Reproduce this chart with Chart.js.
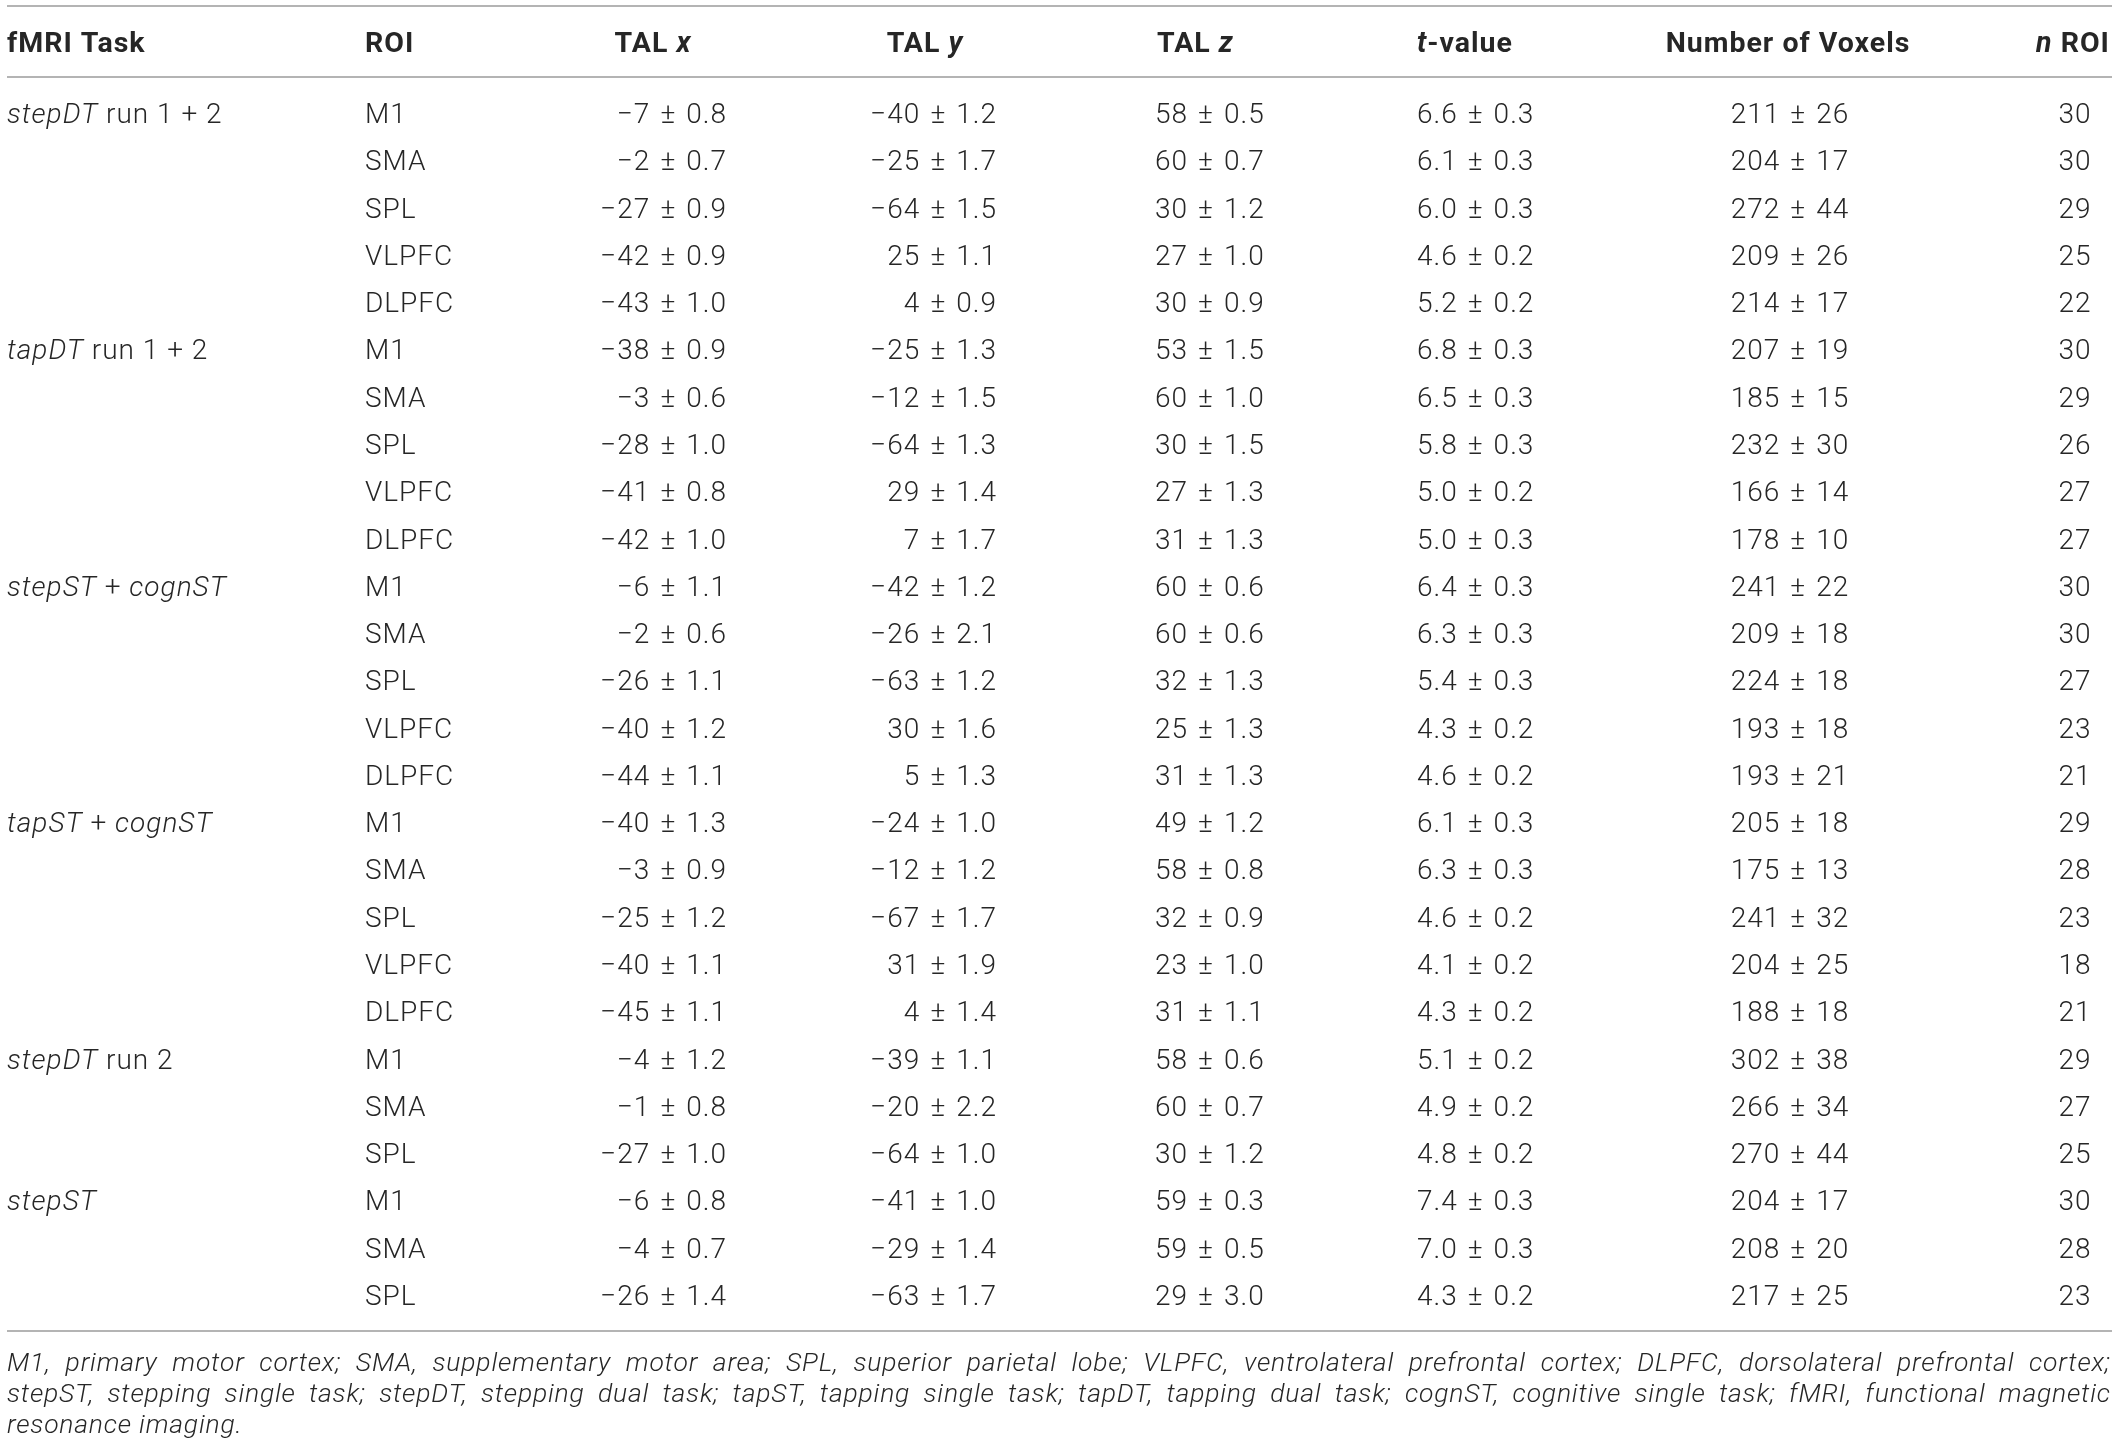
<!DOCTYPE html>
<html><head><meta charset="utf-8">
<script src="https://cdn.jsdelivr.net/npm/chart.js@4.4.1/dist/chart.umd.min.js"></script>
<style>html,body{margin:0;padding:0;background:#fff;overflow:hidden}#wrap{width:2120px;height:1456px}</style>
</head><body><div id="wrap"><canvas id="c" width="2120" height="1456"></canvas></div>
<script>
// ---------- DATA ----------
const headers = ["fMRI Task", "ROI", "TAL x", "TAL y", "TAL z", "t-value", "Number of Voxels", "n ROI"];
const taskNames = ["stepDT run 1 + 2", "tapDT run 1 + 2", "stepST + cognST", "tapST + cognST", "stepDT run 2", "stepST"];
const taskSizes = [5, 5, 5, 5, 3, 3];
const roi = ["M1","SMA","SPL","VLPFC","DLPFC", "M1","SMA","SPL","VLPFC","DLPFC", "M1","SMA","SPL","VLPFC","DLPFC", "M1","SMA","SPL","VLPFC","DLPFC", "M1","SMA","SPL", "M1","SMA","SPL"];
const talXMean = [-7,-2,-27,-42,-43, -38,-3,-28,-41,-42, -6,-2,-26,-40,-44, -40,-3,-25,-40,-45, -4,-1,-27, -6,-4,-26];
const talXSD   = [0.8,0.7,0.9,0.9,1.0, 0.9,0.6,1.0,0.8,1.0, 1.1,0.6,1.1,1.2,1.1, 1.3,0.9,1.2,1.1,1.1, 1.2,0.8,1.0, 0.8,0.7,1.4];
const talYMean = [-40,-25,-64,25,4, -25,-12,-64,29,7, -42,-26,-63,30,5, -24,-12,-67,31,4, -39,-20,-64, -41,-29,-63];
const talYSD   = [1.2,1.7,1.5,1.1,0.9, 1.3,1.5,1.3,1.4,1.7, 1.2,2.1,1.2,1.6,1.3, 1.0,1.2,1.7,1.9,1.4, 1.1,2.2,1.0, 1.0,1.4,1.7];
const talZMean = [58,60,30,27,30, 53,60,30,27,31, 60,60,32,25,31, 49,58,32,23,31, 58,60,30, 59,59,29];
const talZSD   = [0.5,0.7,1.2,1.0,0.9, 1.5,1.0,1.5,1.3,1.3, 0.6,0.6,1.3,1.3,1.3, 1.2,0.8,0.9,1.0,1.1, 0.6,0.7,1.2, 0.3,0.5,3.0];
const tMean    = [6.6,6.1,6.0,4.6,5.2, 6.8,6.5,5.8,5.0,5.0, 6.4,6.3,5.4,4.3,4.6, 6.1,6.3,4.6,4.1,4.3, 5.1,4.9,4.8, 7.4,7.0,4.3];
const tSD      = [0.3,0.3,0.3,0.2,0.2, 0.3,0.3,0.3,0.2,0.3, 0.3,0.3,0.3,0.2,0.2, 0.3,0.3,0.2,0.2,0.2, 0.2,0.2,0.2, 0.3,0.3,0.2];
const voxMean  = [211,204,272,209,214, 207,185,232,166,178, 241,209,224,193,193, 205,175,241,204,188, 302,266,270, 204,208,217];
const voxSD    = [26,17,44,26,17, 19,15,30,14,10, 22,18,18,18,21, 18,13,32,25,18, 38,34,44, 17,20,25];
const nROI     = [30,30,29,25,22, 30,29,26,27,27, 30,30,27,23,21, 29,28,23,18,21, 29,27,25, 30,28,23];
const footnoteLines = [
  "M1, primary motor cortex; SMA, supplementary motor area; SPL, superior parietal lobe; VLPFC, ventrolateral prefrontal cortex; DLPFC, dorsolateral prefrontal cortex;",
  "stepST, stepping single task; stepDT, stepping dual task; tapST, tapping single task; tapDT, tapping dual task; cognST, cognitive single task; fMRI, functional magnetic",
  "resonance imaging."
];

// ---------- LAYOUT / STYLE ----------
const FONT = "Roboto, 'Liberation Sans', Arial, sans-serif";
const TEXT = "#262626";
const RULE = "#b4b4b4";
const cols = [
  {hx: 7,    ha: "left",   dx: 7,    da: "left"},
  {hx: 365,  ha: "left",   dx: 365,  da: "left"},
  {hx: 653,  ha: "center", dx: 726,  da: "right"},
  {hx: 925,  ha: "center", dx: 996,  da: "right"},
  {hx: 1157, ha: "left",   dx: 1155, da: "left"},
  {hx: 1417, ha: "left",   dx: 1417, da: "left"},
  {hx: 1788, ha: "center", dx: 1790, da: "center"},
  {hx: 2073, ha: "center", dx: 2075, da: "center"}
];
const headerRow = -1.5, topRule = -2.48, headRule = -0.97, bottomRule = 25.55;
const ruleX0 = 7, ruleX1 = 2112;
const BODY_SIZE = 28, BODY_LS = 1, HEAD_SIZE = 28.5, HEAD_LS = 1, PM_GAP = 10;
const FOOT_SIZE = 26.5;

// ---------- FORMATTING ----------
function num(v, d) { return (v < 0 ? "\u2212" : "") + Math.abs(v).toFixed(d); }
function pm(m, s, dm, ds) { return num(m, dm) + " \u00b1 " + num(s, ds); }

const cellText = [
  [], roi,
  talXMean.map((m,i)=>pm(m, talXSD[i], 0, 1)),
  talYMean.map((m,i)=>pm(m, talYSD[i], 0, 1)),
  talZMean.map((m,i)=>pm(m, talZSD[i], 0, 1)),
  tMean.map((m,i)=>pm(m, tSD[i], 1, 1)),
  voxMean.map((m,i)=>pm(m, voxSD[i], 0, 0)),
  nROI.map(v=>String(v))
];
const taskRows = []; let r0 = 0;
taskSizes.forEach(n => { taskRows.push(r0); r0 += n; });

const datasets = cols.map((c, ci) => {
  const cells = ci === 0 ? taskNames : cellText[ci];
  const rows = ci === 0 ? taskRows : cells.map((_, r) => r);
  return {label: headers[ci], data: rows.map(r => ({x: c.dx, y: r})), cells, align: c.da, pointRadius: 0};
});

function taskSegments(s) {
  return s.split(" ").map((w, i, arr) => ({t: w + (i < arr.length - 1 ? " " : ""), it: /ST|DT/.test(w)}));
}
function headerSegments(s) {
  const m = s.match(/^(.*?)([xyz])$/);
  if (m) return [{t: m[1], it: false}, {t: m[2], it: true}];
  if (s.startsWith("t-")) return [{t: "t", it: true}, {t: s.slice(1), it: false}];
  if (s.startsWith("n ")) return [{t: "n", it: true}, {t: s.slice(1), it: false}];
  return [{t: s, it: false}];
}
function cellSegments(s) {
  if (s.indexOf(" \u00b1 ") < 0) return [{t: s, it: false}];
  const p = s.split(" \u00b1 ");
  return [{t: p[0], it: false, gap: PM_GAP}, {t: "\u00b1", it: false, gap: PM_GAP}, {t: p[1], it: false}];
}
function setLS(ctx, v) { if ("letterSpacing" in ctx) ctx.letterSpacing = v + "px"; }
function drawRich(ctx, segs, x, y, align, size, weight, ls) {
  setLS(ctx, ls);
  const fonts = segs.map(s => (s.it ? "italic " : "") + weight + " " + size + "px " + FONT);
  let total = 0;
  const ws = segs.map((s, i) => { ctx.font = fonts[i]; const w = ctx.measureText(s.t).width + (s.gap || 0); total += w; return w; });
  if (align === "right") total -= ls;
  let cx = align === "left" ? x : align === "right" ? x - total : x - total / 2;
  ctx.textAlign = "left";
  segs.forEach((s, i) => { ctx.font = fonts[i]; ctx.fillText(s.t, cx, y); cx += ws[i]; });
  setLS(ctx, 0);
}

const tablePlugin = {
  id: "tableText",
  afterDatasetsDraw(chart) {
    const ctx = chart.ctx, xs = chart.scales.x, ys = chart.scales.y;
    ctx.save();
    ctx.fillStyle = TEXT;
    ctx.textBaseline = "alphabetic";
    ctx.strokeStyle = RULE; ctx.lineWidth = 2;
    [topRule, headRule, bottomRule].forEach(v => {
      const py = Math.round(ys.getPixelForValue(v));
      ctx.beginPath(); ctx.moveTo(xs.getPixelForValue(ruleX0), py); ctx.lineTo(xs.getPixelForValue(ruleX1), py); ctx.stroke();
    });
    headers.forEach((h, ci) => {
      drawRich(ctx, headerSegments(h), xs.getPixelForValue(cols[ci].hx), ys.getPixelForValue(headerRow), cols[ci].ha, HEAD_SIZE, "bold", HEAD_LS);
    });
    chart.data.datasets.forEach((ds, di) => {
      const meta = chart.getDatasetMeta(di);
      meta.data.forEach((el, i) => {
        const segs = di === 0 ? taskSegments(ds.cells[i]) : cellSegments(ds.cells[i]);
        drawRich(ctx, segs, el.x, el.y, ds.align, BODY_SIZE, "300", BODY_LS);
      });
    });
    // footnote: justified lines
    const fy0 = ys.getPixelForValue(bottomRule) + 40, lh = 31;
    const x0 = xs.getPixelForValue(ruleX0), x1 = xs.getPixelForValue(2110);
    ctx.font = "italic 300 " + FOOT_SIZE + "px " + FONT;
    ctx.textAlign = "left";
    setLS(ctx, 0);
    const nat = ctx.measureText(footnoteLines[0]).width;
    const ls = Math.max(0, Math.min(0.8, (x1 - x0 - nat) / footnoteLines[0].length));
    setLS(ctx, ls);
    footnoteLines.forEach((line, li) => {
      const y = fy0 + li * lh;
      if (li === footnoteLines.length - 1) { ctx.fillText(line, x0, y); return; }
      const words = line.split(" ");
      const wsum = words.reduce((a, w) => a + ctx.measureText(w).width, 0) - ls;
      const gap = (x1 - x0 - wsum) / (words.length - 1);
      let cx = x0;
      words.forEach(w => { ctx.fillText(w, cx, y); cx += ctx.measureText(w).width + gap; });
    });
    setLS(ctx, 0);
    ctx.restore();
  }
};

const rowPx0 = 123, rowStep = 47.28, H = 1456;
const yMin = -rowPx0 / rowStep, yMax = yMin + H / rowStep;

new Chart(document.getElementById("c"), {
  type: "scatter",
  data: {datasets},
  options: {
    responsive: false, devicePixelRatio: 1, animation: false, events: [],
    layout: {padding: 0},
    plugins: {legend: {display: false}, tooltip: {enabled: false}},
    scales: {
      x: {type: "linear", min: 0, max: 2120, display: false},
      y: {type: "linear", min: yMin, max: yMax, reverse: true, display: false}
    }
  },
  plugins: [tablePlugin]
});
</script>
</body></html>
